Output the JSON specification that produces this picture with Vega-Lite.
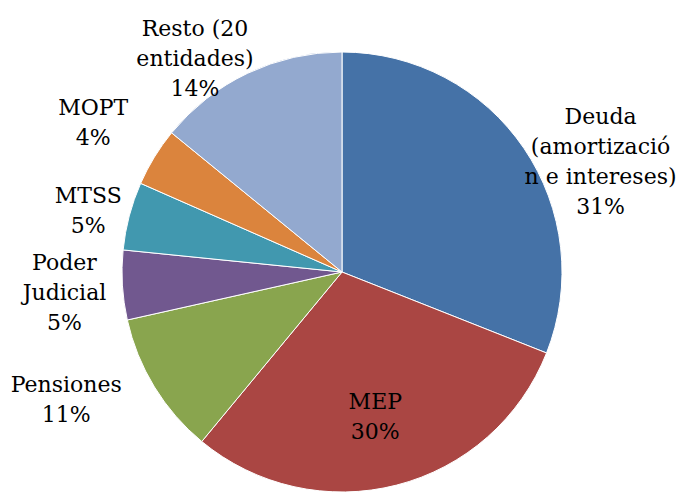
{
  "$schema": "https://vega.github.io/schema/vega-lite/v6.json",
  "autosize": "none",
  "width": 684,
  "height": 544,
  "padding": 0,
  "background": "white",
  "view": {"stroke": null},
  "data": {
    "values": [
      {"i": 1, "name": "Deuda\n(amortizació\nn e intereses)", "share": 31.0},
      {"i": 2, "name": "MEP", "share": 30.0},
      {"i": 3, "name": "Pensiones", "share": 10.5},
      {"i": 4, "name": "Poder\nJudicial", "share": 5.1},
      {"i": 5, "name": "MTSS", "share": 5.0},
      {"i": 6, "name": "MOPT", "share": 4.3},
      {"i": 7, "name": "Resto (20\nentidades)", "share": 14.1}
    ]
  },
  "transform": [
    {"calculate": "datum.name + '\\n' + round(datum.share) + '%'", "as": "lbl"}
  ],
  "encoding": {
    "theta": {"field": "share", "type": "quantitative", "stack": true},
    "order": {"field": "i", "type": "quantitative"}
  },
  "layer": [
    {
      "mark": {"type": "arc", "radius": 220, "stroke": "white", "strokeWidth": 1},
      "encoding": {
        "color": {
          "field": "i",
          "type": "nominal",
          "legend": null,
          "scale": {
            "domain": [1, 2, 3, 4, 5, 6, 7],
            "range": ["#4572A7", "#AA4643", "#89A54E", "#71588F", "#4198AF", "#DB843D", "#93A9CF"]
          }
        }
      }
    },
    {
      "mark": {"type": "text", "radius": 280, "dx": 27, "dy": 2, "font": "DejaVu Serif", "fontSize": 22, "lineHeight": 30, "lineBreak": "\n", "align": "center", "baseline": "middle", "color": "black"},
      "encoding": {"text": {"condition": {"test": "datum.i == 1", "field": "lbl"}, "value": ""}}
    },
    {
      "mark": {"type": "text", "radius": 150, "dx": -4, "dy": -15, "font": "DejaVu Serif", "fontSize": 22, "lineHeight": 30, "lineBreak": "\n", "align": "center", "baseline": "middle", "color": "black"},
      "encoding": {"text": {"condition": {"test": "datum.i == 2", "field": "lbl"}, "value": ""}}
    },
    {
      "mark": {"type": "text", "radius": 280, "dx": -37, "dy": -33, "font": "DejaVu Serif", "fontSize": 22, "lineHeight": 30, "lineBreak": "\n", "align": "center", "baseline": "middle", "color": "black"},
      "encoding": {"text": {"condition": {"test": "datum.i == 3", "field": "lbl"}, "value": ""}}
    },
    {
      "mark": {"type": "text", "radius": 280, "dx": 2, "dy": -26, "font": "DejaVu Serif", "fontSize": 22, "lineHeight": 30, "lineBreak": "\n", "align": "center", "baseline": "middle", "color": "black"},
      "encoding": {"text": {"condition": {"test": "datum.i == 4", "field": "lbl"}, "value": ""}}
    },
    {
      "mark": {"type": "text", "radius": 280, "dx": 17, "dy": -5, "font": "DejaVu Serif", "fontSize": 22, "lineHeight": 30, "lineBreak": "\n", "align": "center", "baseline": "middle", "color": "black"},
      "encoding": {"text": {"condition": {"test": "datum.i == 5", "field": "lbl"}, "value": ""}}
    },
    {
      "mark": {"type": "text", "radius": 280, "dx": -10, "dy": -18, "font": "DejaVu Serif", "fontSize": 22, "lineHeight": 30, "lineBreak": "\n", "align": "center", "baseline": "middle", "color": "black"},
      "encoding": {"text": {"condition": {"test": "datum.i == 6", "field": "lbl"}, "value": ""}}
    },
    {
      "mark": {"type": "text", "radius": 280, "dx": -27, "dy": 10, "font": "DejaVu Serif", "fontSize": 22, "lineHeight": 30, "lineBreak": "\n", "align": "center", "baseline": "middle", "color": "black"},
      "encoding": {"text": {"condition": {"test": "datum.i == 7", "field": "lbl"}, "value": ""}}
    }
  ]
}
